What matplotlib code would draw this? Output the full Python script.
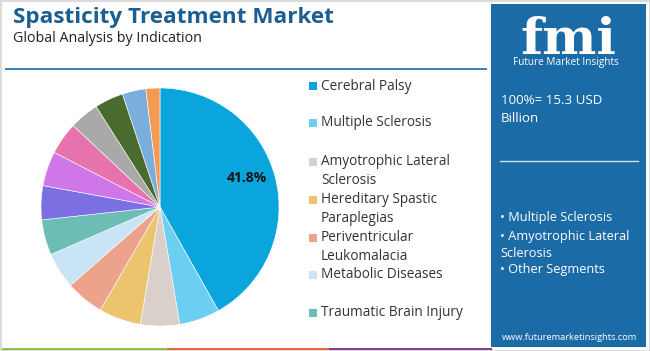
import matplotlib
matplotlib.use("Agg")
import matplotlib.pyplot as plt
from matplotlib.patches import Rectangle

# ---- data ----
categories = ["Cerebral Palsy", "Multiple Sclerosis", "Amyotrophic Lateral\nSclerosis",
              "Hereditary Spastic\nParaplegias", "Periventricular\nLeukomalacia",
              "Metabolic Diseases", "Traumatic Brain Injury",
              "Other 1", "Other 2", "Other 3", "Other 4", "Other 5", "Other 6", "Other 7"]
shares = [41.8, 5.5, 5.3, 5.7, 5.2, 4.9, 4.8, 4.6, 4.7, 4.4, 4.0, 3.9, 3.2, 1.9]
legend_count = 7
title = "Spasticity Treatment Market"
subtitle = "Global Analysis by Indication"
total_text = "100%= 15.3 USD\nBillion"
highlights = ["• Multiple Sclerosis", "• Amyotrophic Lateral\nSclerosis", "• Other Segments"]
url = "www.futuremarketinsights.com"

colors = ["#0aa5dc", "#6ccff2", "#d9cfcb", "#ecc46e", "#eda38b", "#c8e4f5", "#6cbdb5",
          "#7b6fe2", "#cf77e8", "#e673ae", "#a9a9a9", "#4a6b2e", "#79aedd", "#f39b55"]

FONT = "Open Sans"
W, H = 650, 351
fig = plt.figure(figsize=(W / 100, H / 100), dpi=100)
fig.patch.set_facecolor("white")

# overlay axes in pixel coordinates
ov = fig.add_axes([0, 0, 1, 1])
ov.set_xlim(0, W)
ov.set_ylim(H, 0)
ov.axis("off")

# outer border
ov.add_patch(Rectangle((0.5, 0.5), W - 1, H - 1, fill=False, edgecolor="#d4d4d4", lw=1.2))

# title
ov.text(13, 17, title, fontsize=16.2, fontweight="bold", color="#1a5e93",
        family=FONT, va="center", ha="left")
ov.text(13, 39, subtitle, fontsize=10.3, color="#222222", family=FONT, va="center", ha="left")
ov.plot([5, 487], [69, 69], color="#3a80c2", lw=1.4, solid_capstyle="butt")

# bottom strip
for x0, x1, c in [(2, 167, "#8bc34a"), (167, 329, "#e8673c"), (329, 492, "#8e3a9d")]:
    ov.add_patch(Rectangle((x0, 347.5), x1 - x0, 2.5, color=c, lw=0))

# right panel
panel = "#1b6ba7"
ov.add_patch(Rectangle((491, 4), 155, 343, color=panel, lw=0))
ov.text(568, 54, "fmi", fontsize=37, fontweight="bold", color="white",
        family="DejaVu Serif", ha="center", va="baseline")
for yy in range(22, 56, 4):
    ov.plot([518, 620], [yy, yy], color=panel, lw=0.9)
ov.text(566, 62, "Future Market Insights", fontsize=7.2, color="white", family=FONT,
        ha="center", va="center")
ov.text(501, 110, total_text, fontsize=9.6, color="white", family=FONT,
        ha="left", va="center", linespacing=1.5)
ov.plot([500, 638], [161, 161], color="#d0e0ee", lw=1)
ov.text(500, 218, highlights[0], fontsize=9.2, color="white", family=FONT, ha="left", va="center")
ov.text(500, 245, highlights[1], fontsize=9.2, color="white", family=FONT, ha="left", va="center",
        linespacing=1.45)
ov.text(500, 270, highlights[2], fontsize=9.2, color="white", family=FONT, ha="left", va="center")
ov.text(570, 337, url, fontsize=6.7, color="white", family=FONT, ha="center", va="center")

# legend
legend_y = [86, 123, 171, 209, 247, 275, 313]
for i in range(legend_count):
    y = legend_y[i]
    nlines = categories[i].count("\n") + 1
    ytop = y - (nlines - 1) * 19 / 2
    ov.add_patch(Rectangle((308.5, ytop - 4), 8, 8, color=colors[i], lw=0))
    ov.text(321, y, categories[i], fontsize=9.8, color="#333333", family=FONT,
            ha="left", va="center", linespacing=1.38)

# pie
cx, cy, r = 160, 207, 120
ax = fig.add_axes([(cx - r) / W, (H - cy - r) / H, 2 * r / W, 2 * r / H])
ax.pie(shares, colors=colors, startangle=90, counterclock=False, radius=119 / 120,
       wedgeprops=dict(edgecolor="white", linewidth=0.4))
ax.set_xlim(-1, 1)
ax.set_ylim(-1, 1)
ax.set_aspect("equal")
ax.axis("off")
ax.text(0.72, 0.24, f"{shares[0]}%", fontsize=10, fontweight="bold", color="#111111",
        family=FONT, ha="center", va="center")

fig.savefig("out.png", dpi=100)
